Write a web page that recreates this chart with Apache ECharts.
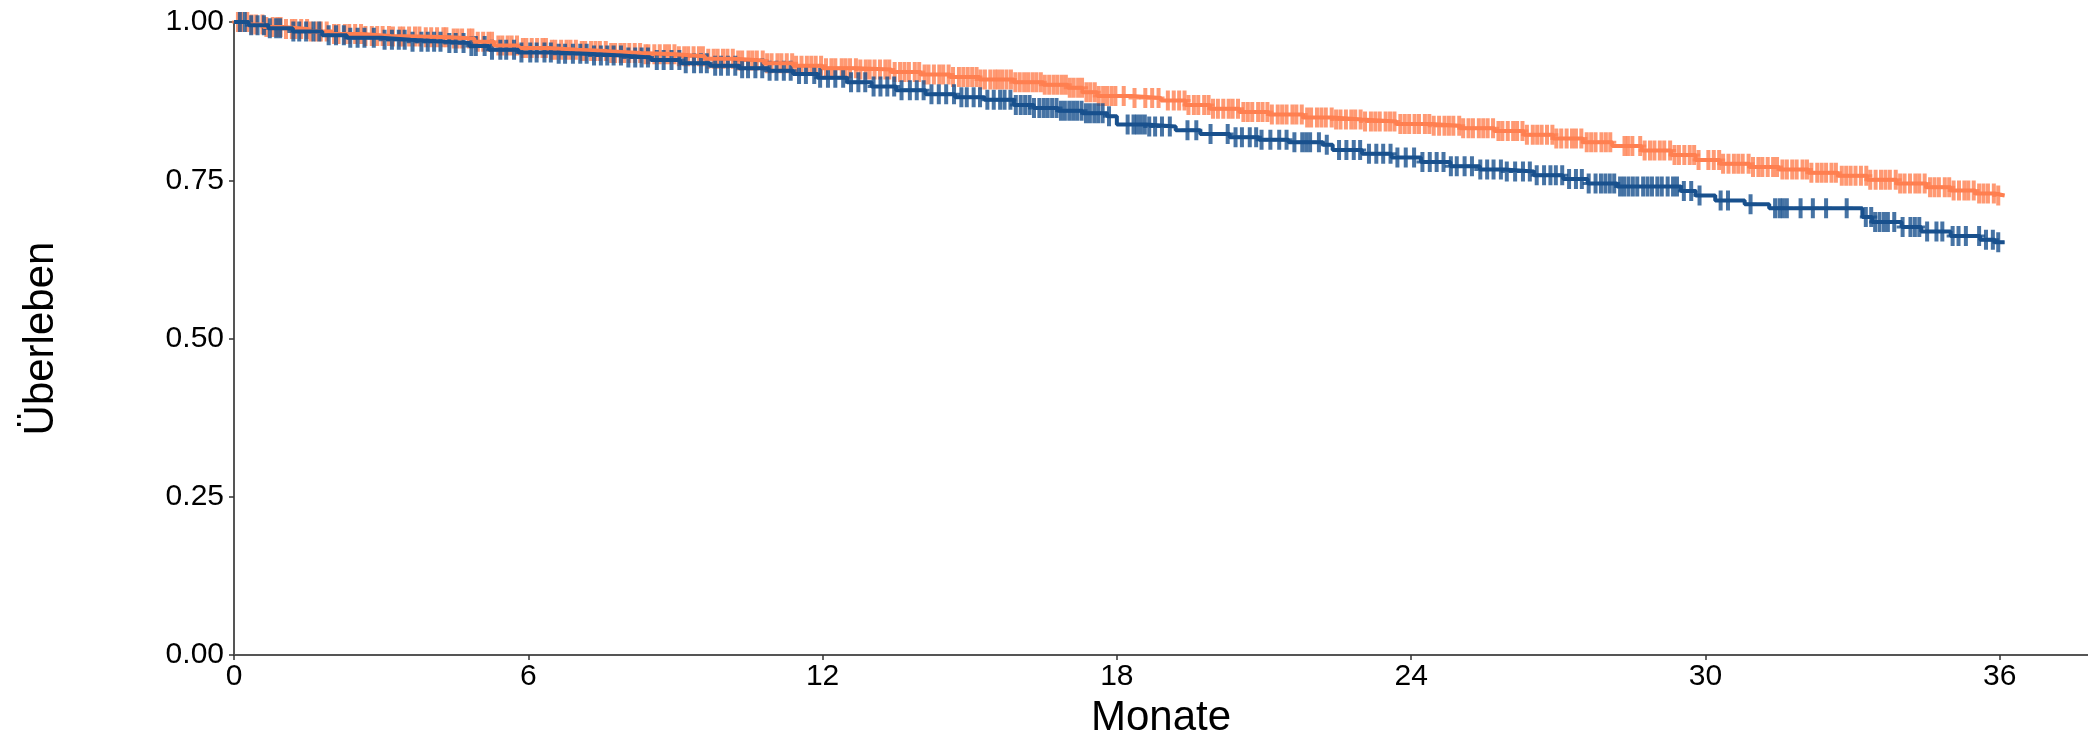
<!DOCTYPE html>
<html>
<head>
<meta charset="utf-8">
<script src="https://cdn.jsdelivr.net/npm/echarts@6/dist/echarts.min.js"></script>
<style>
  html, body { margin: 0; padding: 0; background: #fff; }
  #main { width: 2088px; height: 744px; }
</style>
</head>
<body>
<div id="main"></div>
<script>
// Kaplan-Meier Stufen (Zeit in Monaten, Überleben nach dem Ereignis)
var orangeTimes = [0, 0.3, 0.6, 1.0, 1.5, 2.0, 2.6, 3.2, 3.8, 4.4, 4.9, 5.3, 5.8, 6.4, 7.0, 7.6, 8.3, 9.0, 9.6, 10.2, 10.8, 11.4, 12.0, 12.7, 13.4, 14.0, 14.6, 15.2, 15.9, 16.5, 17.0, 17.3, 17.6, 18.3, 18.9, 19.4, 19.9, 20.5, 21.1, 21.8, 22.4, 23.0, 23.7, 24.4, 25.0, 25.7, 26.3, 26.9, 27.5, 28.1, 28.7, 29.3, 29.8, 30.3, 30.9, 31.5, 32.1, 32.7, 33.3, 33.9, 34.5, 35.0, 35.5, 35.9];
var orangeSurv = [1, 0.996, 0.992, 0.989, 0.985, 0.981, 0.978, 0.977, 0.976, 0.974, 0.969, 0.963, 0.959, 0.956, 0.954, 0.951, 0.949, 0.946, 0.942, 0.939, 0.935, 0.931, 0.927, 0.925, 0.921, 0.917, 0.913, 0.909, 0.905, 0.901, 0.896, 0.889, 0.883, 0.880, 0.876, 0.869, 0.863, 0.858, 0.854, 0.849, 0.846, 0.843, 0.839, 0.836, 0.832, 0.828, 0.822, 0.816, 0.810, 0.804, 0.797, 0.790, 0.782, 0.776, 0.771, 0.767, 0.762, 0.757, 0.751, 0.745, 0.739, 0.734, 0.729, 0.726];
var orangeCensor = [
  0.08, 0.15, 0.27, 0.36, 0.45, 0.58, 0.66, 0.79, 0.88, 0.95,
  1.06, 1.18, 1.25, 1.37, 1.49, 1.56, 1.68, 1.77, 1.89,
  2.04, 2.13, 2.26, 2.35, 2.47, 2.59, 2.68, 2.81, 2.92,
  3.03, 3.16, 3.24, 3.38, 3.45, 3.57, 3.69, 3.78, 3.91,
  4.02, 4.14, 4.27, 4.33, 4.48, 4.56, 4.65, 4.79, 4.86, 4.97,
  5.08, 5.19, 5.26, 5.39, 5.47, 5.58, 5.66, 5.77, 5.89, 5.96,
  6.07, 6.18, 6.29, 6.36, 6.48, 6.55, 6.67, 6.78, 6.86, 6.97,
  7.09, 7.16, 7.28, 7.37, 7.46, 7.58, 7.69, 7.77, 7.88, 7.96,
  8.06, 8.17, 8.28, 8.39, 8.45, 8.57, 8.68, 8.79, 8.87, 8.98,
  9.07, 9.18, 9.26, 9.37, 9.48, 9.56, 9.67, 9.78, 9.86, 9.97,
  10.06, 10.17, 10.28, 10.36, 10.49, 10.57, 10.66, 10.78, 10.87, 10.96,
  11.08, 11.16, 11.27, 11.38, 11.46, 11.57, 11.68, 11.77, 11.86, 11.97,
  12.07, 12.18, 12.26, 12.39, 12.47, 12.56, 12.68, 12.77, 12.88, 12.96,
  13.06, 13.17, 13.28, 13.36, 13.47, 13.58, 13.67, 13.76, 13.88, 13.97,
  14.08, 14.16, 14.27, 14.38, 14.46, 14.57, 14.66, 14.78, 14.87, 14.96,
  15.05, 15.14, 15.22, 15.31, 15.42, 15.51, 15.58, 15.66, 15.75, 15.84, 15.93,
  16.02, 16.11, 16.19, 16.28, 16.36, 16.45, 16.53, 16.62, 16.71, 16.79, 16.88, 16.96,
  17.04, 17.12, 17.21, 17.29, 17.38, 17.46, 17.55, 17.63, 17.72, 17.80, 17.89, 17.97,
  18.14, 18.36, 18.58, 18.72, 18.85,
  19.04, 19.16, 19.27, 19.38, 19.46, 19.57, 19.66, 19.78, 19.87, 19.96,
  20.06, 20.17, 20.28, 20.36, 20.47, 20.58, 20.67, 20.76, 20.88, 20.97,
  21.07, 21.16, 21.28, 21.37, 21.46, 21.58, 21.66, 21.77, 21.88, 21.96,
  22.08, 22.17, 22.26, 22.38, 22.47, 22.56, 22.67, 22.78, 22.86, 22.97,
  23.06, 23.18, 23.27, 23.36, 23.48, 23.57, 23.66, 23.78, 23.87, 23.96,
  24.07, 24.16, 24.28, 24.37, 24.46, 24.57, 24.68, 24.77, 24.86, 24.98,
  25.06, 25.17, 25.26, 25.38, 25.47, 25.56, 25.67, 25.78, 25.86, 25.97,
  26.08, 26.16, 26.27, 26.36, 26.48, 26.57, 26.66, 26.77, 26.88, 26.96,
  27.06, 27.17, 27.28, 27.36, 27.47, 27.58, 27.67, 27.76, 27.88, 27.97,
  28.06, 28.35, 28.42, 28.51, 28.67, 28.76, 28.87, 28.96,
  29.07, 29.16, 29.28, 29.37, 29.46, 29.57, 29.68, 29.77, 29.86,
  30.06, 30.17, 30.28, 30.36, 30.47, 30.58, 30.67, 30.76, 30.88, 30.97,
  31.08, 31.16, 31.27, 31.38, 31.46, 31.57, 31.66, 31.77, 31.86, 31.98,
  32.07, 32.16, 32.28, 32.37, 32.46, 32.57, 32.66, 32.78, 32.87, 32.96,
  33.06, 33.17, 33.28, 33.36, 33.47, 33.58, 33.67, 33.76, 33.88, 33.97,
  34.06, 34.17, 34.28, 34.36, 34.47, 34.58, 34.67, 34.76, 34.88, 34.97,
  35.06, 35.17, 35.28, 35.36, 35.47, 35.58, 35.67, 35.76, 35.88, 35.97
];
var orangeEnd = 36.1;

var blueTimes = [0, 0.3, 0.7, 1.2, 1.8, 2.3, 3.0, 3.6, 4.3, 4.8, 5.2, 5.8, 6.5, 7.2, 7.9, 8.5, 9.1, 9.7, 10.3, 10.9, 11.4, 11.9, 12.5, 13.0, 13.5, 14.1, 14.7, 15.3, 15.9, 16.3, 16.8, 17.3, 17.8, 18.0, 18.6, 19.2, 19.7, 20.3, 20.9, 21.5, 22.2, 22.4, 23.0, 23.6, 24.2, 24.8, 25.4, 25.9, 26.5, 27.1, 27.6, 28.2, 29.5, 29.8, 30.2, 30.8, 31.3, 33.2, 33.4, 34.0, 34.4, 35.0, 35.6, 35.9];
var blueSurv = [1, 0.995, 0.990, 0.985, 0.979, 0.975, 0.972, 0.969, 0.967, 0.962, 0.956, 0.952, 0.950, 0.947, 0.944, 0.940, 0.935, 0.931, 0.927, 0.923, 0.918, 0.912, 0.905, 0.898, 0.892, 0.886, 0.881, 0.877, 0.869, 0.864, 0.860, 0.856, 0.851, 0.838, 0.835, 0.829, 0.823, 0.818, 0.814, 0.810, 0.806, 0.798, 0.792, 0.786, 0.779, 0.772, 0.767, 0.764, 0.758, 0.752, 0.745, 0.740, 0.733, 0.726, 0.718, 0.712, 0.706, 0.692, 0.684, 0.676, 0.669, 0.662, 0.656, 0.652];
var blueCensor = [
  0.12, 0.22, 0.35, 0.48, 0.61, 0.73, 0.86, 0.94,
  1.21, 1.33, 1.47, 1.62, 1.74, 1.93,
  2.08, 2.24, 2.37, 2.52, 2.66, 2.85,
  3.07, 3.22, 3.36, 3.48, 3.64, 3.82, 3.95,
  4.08, 4.21, 4.39, 4.52, 4.68, 4.84, 4.93,
  5.11, 5.26, 5.43, 5.55, 5.71, 5.86,
  6.04, 6.17, 6.33, 6.46, 6.62, 6.75, 6.91,
  7.06, 7.19, 7.34, 7.48, 7.61, 7.74, 7.89,
  8.04, 8.18, 8.31, 8.44, 8.62, 8.76, 8.92,
  9.08, 9.21, 9.38, 9.52, 9.64, 9.81, 9.93,
  10.07, 10.22, 10.36, 10.48, 10.63, 10.77, 10.92,
  11.06, 11.21, 11.35, 11.52, 11.66, 11.83, 11.95,
  12.11, 12.26, 12.42, 12.58, 12.73, 12.87,
  13.04, 13.18, 13.32, 13.46, 13.61, 13.78, 13.92,
  14.06, 14.22, 14.37, 14.52, 14.68, 14.83, 14.94,
  15.08, 15.21, 15.36, 15.49, 15.62, 15.71, 15.83, 15.94,
  16.04, 16.13, 16.22, 16.31, 16.42, 16.51, 16.59, 16.68, 16.77, 16.86, 16.94,
  17.03, 17.11, 17.19, 17.28, 17.37, 17.45, 17.54, 17.62, 17.71, 17.84,
  18.22, 18.34, 18.41, 18.49, 18.57, 18.66, 18.78, 18.92,
  19.08, 19.44, 19.62, 19.91,
  20.26, 20.42, 20.55, 20.71, 20.84, 20.95,
  21.13, 21.31, 21.46, 21.62, 21.78, 21.86, 21.94,
  22.12, 22.28, 22.53, 22.68, 22.83, 22.96,
  23.14, 23.29, 23.43, 23.58, 23.72, 23.89,
  24.06, 24.23, 24.38, 24.52, 24.66, 24.81, 24.93,
  25.09, 25.24, 25.41, 25.55, 25.68, 25.83, 25.95,
  26.12, 26.28, 26.42, 26.56, 26.71, 26.84, 26.95,
  27.08, 27.22, 27.36, 27.48, 27.62, 27.76, 27.87, 27.96,
  28.05, 28.14, 28.26, 28.34, 28.43, 28.52, 28.61, 28.73, 28.82, 28.91,
  29.02, 29.11, 29.23, 29.34, 29.42, 29.56, 29.71, 29.88,
  30.31, 30.46, 30.92,
  31.42, 31.51, 31.58, 31.66, 31.94,
  32.19, 32.46, 32.88,
  33.27, 33.38, 33.46, 33.55, 33.64, 33.72, 33.85,
  34.02, 34.18, 34.27, 34.36, 34.52, 34.71, 34.83,
  35.04, 35.16, 35.31, 35.58, 35.72, 35.86, 35.97
];
var blueEnd = 36.1;

var xTicks = [0, 6, 12, 18, 24, 30, 36];
var yTicks = [0, 0.25, 0.5, 0.75, 1];

var orangeColor = '#FF7F50';
var blueColor = '#18508D';
var plusPath = 'path://M4,0h4v20h-4z M0,8.5h12v3h-12z';

function stepLine(times, surv, end) {
  var pts = [];
  for (var i = 0; i < times.length; i++) pts.push([times[i], surv[i]]);
  pts.push([end, surv[surv.length - 1]]);
  return pts;
}

// Wert der Stufenfunktion zum Zensierungszeitpunkt
function censorPoints(times, surv, censor) {
  return censor.map(function (t) {
    var s = surv[0];
    for (var i = 0; i < times.length; i++) {
      if (times[i] <= t) s = surv[i];
    }
    return [t, s];
  });
}

var myChart = echarts.init(document.getElementById('main'));
var font = 'Liberation Sans, Arial, sans-serif';
var option = {
  animation: false,
  grid: { left: 234, right: 0, top: 22, bottom: 83 },
  xAxis: {
    type: 'value',
    min: 0,
    max: 37.8,
    interval: 6,
    name: 'Monate',
    nameLocation: 'middle',
    nameGap: 40,
    nameTextStyle: { fontSize: 42, fontFamily: font, color: '#000' },
    axisLine: { lineStyle: { color: '#555', width: 2 } },
    axisTick: { length: 5, lineStyle: { color: '#333', width: 1.5 } },
    axisLabel: {
      fontSize: 30, fontFamily: font, color: '#000', margin: 7,
      showMaxLabel: false,
      formatter: function (v) { return xTicks.indexOf(v) >= 0 ? String(v) : ''; }
    },
    splitLine: { show: false }
  },
  yAxis: {
    type: 'value',
    min: 0,
    max: 1,
    interval: 0.25,
    name: 'Überleben',
    nameLocation: 'middle',
    nameGap: 172,
    nameTextStyle: { fontSize: 42, fontFamily: font, color: '#000' },
    axisLine: { show: true, lineStyle: { color: '#555', width: 2 } },
    axisTick: { show: true, length: 5, lineStyle: { color: '#333', width: 1.5 } },
    axisLabel: {
      fontSize: 30, fontFamily: font, color: '#000', margin: 10,
      formatter: function (v) { return yTicks.indexOf(v) >= 0 ? v.toFixed(2) : ''; }
    },
    splitLine: { show: false }
  },
  series: [
    {
      type: 'line', step: 'end', showSymbol: false,
      data: stepLine(orangeTimes, orangeSurv, orangeEnd),
      lineStyle: { color: orangeColor, width: 4 }
    },
    {
      type: 'scatter', symbol: plusPath, symbolSize: [12, 20],
      data: censorPoints(orangeTimes, orangeSurv, orangeCensor),
      itemStyle: { color: orangeColor }
    },
    {
      type: 'line', step: 'end', showSymbol: false,
      data: stepLine(blueTimes, blueSurv, blueEnd),
      lineStyle: { color: blueColor, width: 4 }
    },
    {
      type: 'scatter', symbol: plusPath, symbolSize: [12, 20],
      data: censorPoints(blueTimes, blueSurv, blueCensor),
      itemStyle: { color: blueColor }
    }
  ]
};
// 绘制图表
myChart.setOption(option);
</script>
</body>
</html>
